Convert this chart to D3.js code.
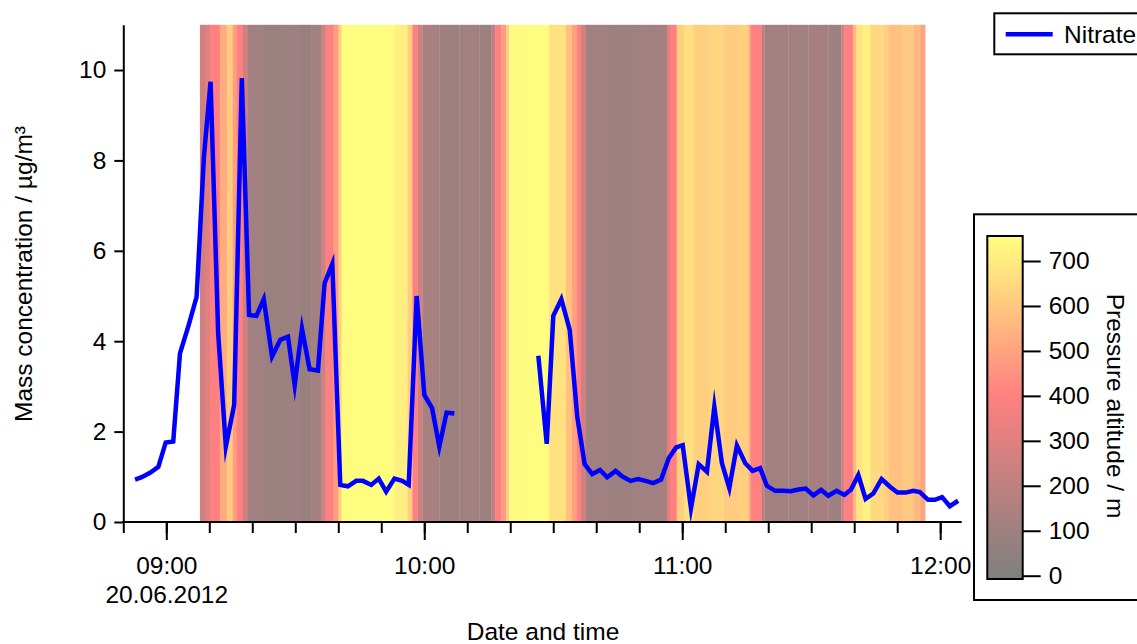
<!DOCTYPE html>
<html><head><meta charset="utf-8">
<script src="https://cdn.jsdelivr.net/npm/d3@7"></script>
<style>
html,body{margin:0;padding:0;background:#fff;}
text{font-family:"Liberation Sans",Arial,sans-serif;fill:#000;}
</style></head>
<body><svg id="c" width="1137" height="644"></svg>
<script>
// ---- Nitrate series (time, µg/m³); null = gap ----
const nitrateTimes = ["08:52:44","08:54:17","08:56:13","08:58:09","08:59:52","09:01:37","09:03:11","09:05:06","09:07:03","09:08:45",
"09:10:18","09:12:04","09:13:51","09:15:47","09:17:34","09:19:15","09:20:58","09:22:40","09:24:36","09:26:32",
"09:28:18","09:29:52","09:31:33","09:33:20","09:35:16","09:36:49","09:38:37","09:40:28","09:42:14","09:44:11",
"09:45:43","09:47:40","09:49:25","09:51:08","09:53:04","09:54:51","09:56:23","09:58:14","10:00:01","10:01:49",
"10:03:30","10:05:12","10:06:59","10:16:00","10:26:32","10:28:29","10:30:01","10:31:53","10:33:50","10:35:35",
"10:37:18","10:39:04","10:40:52","10:42:33","10:44:30","10:46:11","10:47:59","10:49:44","10:51:28","10:53:14",
"10:55:05","10:56:52","10:58:34","11:00:07","11:02:02","11:03:50","11:05:45","11:07:28","11:09:14","11:10:57",
"11:12:43","11:14:40","11:16:22","11:18:08","11:19:41","11:21:37","11:23:33","11:25:14","11:27:02","11:28:43",
"11:30:31","11:32:18","11:33:59","11:35:55","11:37:42","11:39:16","11:40:57","11:42:39","11:44:26","11:46:22",
"11:48:19","11:50:04","11:51:56","11:53:43","11:55:16","11:57:11","11:58:45","12:00:26","12:02:14","12:04:10"];
const nitrateValues = [0.94,0.99,1.09,1.22,1.76,1.78,3.73,4.32,4.98,8.08,
9.74,4.17,1.67,2.59,9.82,4.58,4.56,4.93,3.66,4.03,
4.10,3.03,4.28,3.38,3.35,5.28,5.71,0.82,0.79,0.91,
0.91,0.82,0.96,0.67,0.96,0.91,0.82,5.00,2.81,2.52,
1.67,2.42,2.40,null,3.68,1.73,4.56,4.93,4.25,2.33,
1.28,1.06,1.15,0.99,1.13,1.00,0.91,0.95,0.91,0.86,
0.94,1.41,1.65,1.70,0.30,1.28,1.11,2.55,1.30,0.75,
1.69,1.30,1.13,1.19,0.80,0.69,0.69,0.68,0.72,0.74,
0.59,0.71,0.58,0.69,0.60,0.72,1.04,0.51,0.63,0.95,
0.78,0.65,0.65,0.69,0.66,0.49,0.49,0.55,0.35,0.47];

// ---- Pressure altitude (m) segments: start times, values, end time ----
const altTimes = ["09:07:49","09:09:00","09:10:08","09:12:27","09:14:05","09:15:28","09:16:24","09:17:48","09:18:58","09:22:54",
"09:27:32","09:31:01","09:33:48","09:36:07","09:37:03","09:38:55","09:40:04","09:40:46","09:53:04","09:56:05",
"09:57:14","09:58:24","09:59:34","10:03:30","10:08:08","10:12:47","10:15:34","10:16:30","10:17:53","10:19:03",
"10:19:45","10:24:23","10:29:02","10:32:58","10:34:22","10:35:31","10:36:27","10:37:37","10:42:57","10:48:45",
"10:53:23","10:56:24","10:57:06","10:58:43","11:00:21","11:02:40","11:06:09","11:09:38","11:13:07","11:15:26",
"11:15:54","11:18:27","11:19:08","11:24:42","11:29:21","11:33:59","11:37:00","11:37:42","11:39:47","11:40:29",
"11:42:06","11:43:44","11:46:45","11:47:55","11:51:23","11:53:43","11:55:20"];
const altValues = [250,300,400,520,610,480,400,250,100,85,
95,80,115,250,400,480,620,750,710,620,
400,250,130,90,100,90,200,400,480,620,
740,750,670,580,490,400,250,100,90,100,
110,300,400,620,665,620,640,610,620,520,
400,200,110,100,120,95,250,400,560,680,
720,650,620,580,600,560,500];
const altEnd = "11:56:30";

const xDomain = ["08:50:00","12:05:00"];
const yDomain = [0, 11];
const yTicks = [0,2,4,6,8,10];
const altDomain = [0, 400, 755];
const altColors = ["#808080","#ff8080","#ffff80"];
const altTicks = [0,100,200,300,400,500,600,700];
const xLabelDate = "20.06.2012";

// ---- setup ----
const parse = s => d3.timeParse("%Y-%m-%d %H:%M:%S")("2012-06-20 " + s);
const svg = d3.select("#c");
const FONT = 24.5;
const x = d3.scaleTime().domain(xDomain.map(parse)).range([123.3, 961.7]);
const y = d3.scaleLinear().domain(yDomain).range([522, 24.8]);
const col = d3.scaleLinear().domain(altDomain).range(altColors);

// stripes
const segs = altTimes.map((t,i)=>({t0:parse(t), t1:parse(i<altTimes.length-1?altTimes[i+1]:altEnd), v:altValues[i]}));
svg.append("g").selectAll("rect").data(segs).join("rect")
  .attr("x", d=>x(d.t0)).attr("width", d=>x(d.t1)-x(d.t0)+0.3)
  .attr("y", y(yDomain[1])).attr("height", y(0)-y(yDomain[1]))
  .attr("fill", d=>col(d.v));

// line
const data = nitrateTimes.map((t,i)=>({t:parse(t), v:nitrateValues[i]}));
svg.append("path").datum(data)
  .attr("fill","none").attr("stroke","#0000ff").attr("stroke-width",4.5).attr("stroke-linejoin","miter").attr("stroke-miterlimit",10)
  .attr("d", d3.line().defined(d=>d.v!=null).x(d=>x(d.t)).y(d=>y(d.v)));

// x axis minor
const gxm = svg.append("g").attr("transform","translate(0,522)")
  .call(d3.axisBottom(x).ticks(d3.timeMinute.every(10)).tickSize(11).tickFormat(""));
gxm.select(".domain").remove();
gxm.selectAll("line").attr("stroke","#000").attr("stroke-width",2);
// x axis major
const gx = svg.append("g").attr("transform","translate(0,522)")
  .call(d3.axisBottom(x).ticks(d3.timeHour.every(1)).tickSize(18).tickPadding(17).tickFormat(d3.timeFormat("%H:%M")));
gx.select(".domain").attr("d", `M${x.range()[0]-1},0H${x.range()[1]}`).attr("stroke","#000").attr("stroke-width",2);
gx.selectAll("line").attr("stroke","#000").attr("stroke-width",2);
gx.selectAll("text").attr("font-size",FONT).attr("font-family","Liberation Sans, Arial");
gx.selectAll(".tick").filter((d,i)=>i===0).select("text")
  .append("tspan").attr("x",0).attr("dy","1.15em").text(xLabelDate);

// y axis
const gy = svg.append("g").attr("transform","translate(123.3,0)")
  .call(d3.axisLeft(y).tickValues(yTicks).tickSize(9).tickPadding(8).tickSizeOuter(0));
gy.select(".domain").attr("stroke","#000").attr("stroke-width",2);
gy.selectAll("line").attr("stroke","#000").attr("stroke-width",2);
gy.selectAll("text").attr("font-size",FONT).attr("font-family","Liberation Sans, Arial");

// axis titles
svg.append("text").attr("x",543).attr("y",640).attr("text-anchor","middle").attr("font-size",FONT).text("Date and time");
svg.append("text").attr("transform","translate(32,274) rotate(-90)").attr("text-anchor","middle").attr("font-size",FONT)
  .text("Mass concentration / µg/m³");

// legend
svg.append("rect").attr("x",994.3).attr("y",13.3).attr("width",200).attr("height",41)
  .attr("fill","#fff").attr("stroke","#000").attr("stroke-width",2);
svg.append("line").attr("x1",1005.7).attr("x2",1052.7).attr("y1",34.3).attr("y2",34.3)
  .attr("stroke","#0000ff").attr("stroke-width",4.5);
svg.append("text").attr("x",1064).attr("y",42.5).attr("font-size",FONT).text("Nitrate");

// colorbar
svg.append("rect").attr("x",974).attr("y",214.3).attr("width",200).attr("height",385.7)
  .attr("fill","#fff").attr("stroke","#000").attr("stroke-width",2);
const cb = d3.scaleLinear().domain([0,700]).range([575.7,261]);
const grad = svg.append("defs").append("linearGradient").attr("id","cbg")
  .attr("x1",0).attr("x2",0).attr("y1",1).attr("y2",0);
const cbLo = cb.invert(579), cbHi = cb.invert(236);
d3.range(0,31).forEach(i=>{
  const v = cbLo + (cbHi-cbLo)*i/30;
  grad.append("stop").attr("offset", i/30).attr("stop-color", col(Math.max(0,v)));
});
svg.append("rect").attr("x",987.3).attr("y",cb(cbHi)).attr("width",35.4).attr("height",cb(cbLo)-cb(cbHi))
  .attr("fill","url(#cbg)").attr("stroke","#000").attr("stroke-width",2);
const gc = svg.append("g").attr("transform","translate(1022.7,0)")
  .call(d3.axisRight(cb).tickValues(altTicks).tickSize(18).tickPadding(8).tickFormat(d3.format("d")));
gc.select(".domain").remove();
gc.selectAll("line").attr("stroke","#000").attr("stroke-width",2);
gc.selectAll("text").attr("font-size",FONT).attr("font-family","Liberation Sans, Arial");
svg.append("text").attr("transform","translate(1107,406) rotate(90)").attr("text-anchor","middle").attr("font-size",FONT)
  .text("Pressure altitude / m");
</script></body></html>
